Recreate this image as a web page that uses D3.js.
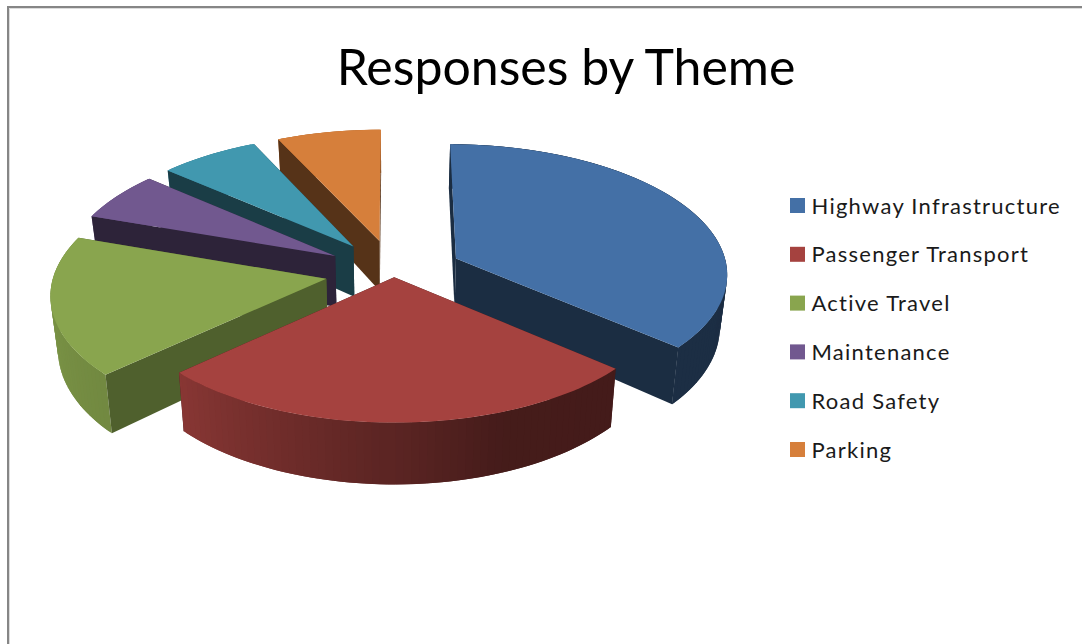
<!DOCTYPE html>
<html>
<head>
<meta charset="utf-8">
<title>Responses by Theme</title>
<script src="https://cdnjs.cloudflare.com/ajax/libs/d3/7.8.5/d3.min.js"></script>
<style>
  html, body { margin: 0; padding: 0; background: #fff; }
  svg { display: block; }
  .title { font-family: Lato, "Open Sans", sans-serif; font-size: 50px; fill: #000; }
  .legend-label { font-family: Lato, "Open Sans", sans-serif; font-size: 22px; fill: #1a1a1a; letter-spacing: 1.25px; }
</style>
</head>
<body>
<div id="chart"></div>
<script>
const title = "Responses by Theme";
const categories = ["Highway Infrastructure", "Passenger Transport", "Active Travel", "Maintenance", "Road Safety", "Parking"];
const values = [131, 96, 62, 22, 24, 25];
const colors = ["#4470a6", "#a5423f", "#89a54e", "#71588f", "#4198af", "#d67f3b"];

const width = 1082;
const height = 644;

// fake 3d: a ground plane tipped back, with a little perspective
const cx = 394;
const cy = 272;
const radiusX = 272;
const radiusY = 129;
const depth = 52;
const persp = 0.105;
const DEG = Math.PI / 180;

function explodeOf(name) {
  return name === "Passenger Transport" ? 0.04 : 0.253;
}

function project(u, v, z) {
  const w = 1 / (1 + persp * v);
  const shrink = 1 - 0.022 * z;
  return [
    cx + radiusX * u * w * shrink,
    cy - radiusY * v * w + depth * z * Math.pow(w, 1.5)
  ];
}

const svg = d3.select("#chart").append("svg").attr("width", width).attr("height", height);

// window frame of the screenshot
svg.append("path").attr("d", `M8,${height}V7H${width}`)
  .attr("fill", "none").attr("stroke", "#868686").attr("stroke-width", 2);
svg.append("path").attr("d", `M9.5,${height}V8.5H${width}`)
  .attr("fill", "none").attr("stroke", "#dcdcdc").attr("stroke-width", 1);

svg.append("text").attr("class", "title")
  .attr("x", 566).attr("y", 85).attr("text-anchor", "middle").text(title);

const colorScale = d3.scaleOrdinal().domain(categories).range(colors);
// side walls get lighter going round from the right to the left of the pie
const wallShade = d3.scaleLinear().domain([90, 160, 180, 227, 260, 360]).range([0.4, 0.42, 0.55, 0.83, 0.89, 0.89]).clamp(true);

function shade(color, k) {
  const c = d3.rgb(color);
  return d3.rgb(c.r * k, c.g * k, c.b * k).formatHex();
}

const line = d3.line();
const pie = d3.pie().value((d, i) => values[i]).sort(null);

const slices = pie(categories).map((d) => {
  const mid = (d.startAngle + d.endAngle) / 2;
  const e = explodeOf(d.data);
  return { name: d.data, a0: d.startAngle, a1: d.endAngle, mid, ox: e * Math.sin(mid), oy: e * Math.cos(mid) };
});

function rimPoint(s, a, z) {
  return project(s.ox + Math.sin(a), s.oy + Math.cos(a), z);
}

function radialFace(s, a) {
  return [project(s.ox, s.oy, 0), rimPoint(s, a, 0), rimPoint(s, a, 1), project(s.ox, s.oy, 1)];
}

const pieG = svg.append("g");
const step = 1.5 * DEG;

// back to front
slices.slice().sort((a, b) => Math.cos(b.mid) - Math.cos(a.mid)).forEach((s) => {
  const g = pieG.append("g").attr("class", "slice");
  const base = colorScale(s.name);
  const wallK = s.name === "Active Travel" ? 0.58 : 0.4;

  const startFace = radialFace(s, s.a0);
  const endFace = radialFace(s, s.a1);
  // d3.polygonArea is signed, use it to find which radial wall faces us
  const endVisible = d3.polygonArea(endFace) < 0;
  const startVisible = d3.polygonArea(startFace) > 0;
  const walls = [[startFace, startVisible], [endFace, endVisible]];

  walls.filter((f) => !f[1]).forEach((f) => {
    g.append("path").attr("d", line(f[0]) + "Z").attr("fill", shade(base, wallK));
  });

  // outer wall, cut in narrow strips that overlap a little so no seams show
  const stops = d3.range(s.a0, s.a1, step).concat([s.a1]);
  const strips = d3.pairs(stops).sort((p, q) => Math.cos(q[0]) - Math.cos(p[0]));
  strips.forEach((p) => {
    const a0 = Math.max(s.a0, p[0] - step / 2);
    const a1 = Math.min(s.a1, p[1] + step / 2);
    const col = shade(base, wallShade(((p[0] + p[1]) / 2) / DEG));
    g.append("path")
      .attr("d", line([rimPoint(s, a0, 0), rimPoint(s, a1, 0), rimPoint(s, a1, 1), rimPoint(s, a0, 1)]) + "Z")
      .attr("fill", col);
  });

  walls.filter((f) => f[1]).forEach((f) => {
    g.append("path").attr("d", line(f[0]) + "Z").attr("fill", shade(base, wallK));
  });

  const top = [project(s.ox, s.oy, 0)].concat(stops.map((a) => rimPoint(s, a, 0)));
  g.append("path").attr("d", line(top) + "Z").attr("fill", base);
});

const legendY = d3.scalePoint().domain(categories).range([205.5, 449.5]);

const legend = svg.append("g").selectAll("g").data(categories).enter().append("g")
  .attr("transform", (d) => `translate(790,${legendY(d)})`);

legend.append("rect")
  .attr("x", 0).attr("y", -7.5).attr("width", 15).attr("height", 15)
  .attr("fill", (d) => colorScale(d));

legend.append("text").attr("class", "legend-label")
  .attr("x", 21.5).attr("y", 8).text((d) => d);
</script>
</body>
</html>
